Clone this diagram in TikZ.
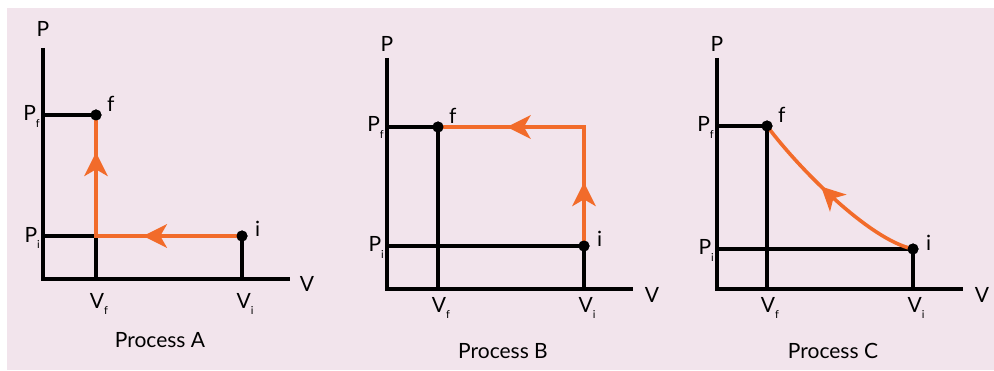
\documentclass[tikz,border=0pt]{standalone}
\usepackage{fontspec}
\setmainfont{Lato}
\usetikzlibrary{decorations.markings}

\definecolor{bgpink}{HTML}{F2E4EC}
\definecolor{procorange}{HTML}{F26B2A}

\newcommand{\lowsub}[1]{\raisebox{-0.6ex}{\fontsize{11}{11}\selectfont #1}}

\tikzset{
  axis/.style={line width=3.8pt, line join=miter},
  guide/.style={line width=3.6pt},
  proc/.style={procorange, line width=3.6pt},
  arrow at/.style={postaction={decorate, decoration={markings,
      mark=at position #1 with {\fill[procorange] (0pt,0pt) -- (-24pt,12pt)
          -- (-17pt,0pt) -- (-24pt,-12pt) -- cycle;}}}},
  dot/.style={circle, fill=black, inner sep=0pt, minimum size=11pt},
  lbl/.style={font=\fontsize{21}{24}\selectfont, inner sep=0pt},
}

\begin{document}
\begin{tikzpicture}[x=1pt,y=1pt]
    \useasboundingbox (0,0) rectangle (994,370);
    \fill[bgpink] (7,0) rectangle (994,362);

    % Process A
    \begin{scope}[shift={(43,91)}]
    \coordinate (oA) at (0,0);
    \coordinate (pA) at (0,231);
    \coordinate (vA) at (247,0);
    \draw[axis] (pA) -- (oA) -- (vA);
    \node[lbl, anchor=base] (PA) at (0,242) {P};
    \node[lbl, anchor=base] (VA) at (264,-13) {V};

    \node[dot] (fA) at (53,164) {};
    \node[dot] (iA) at (199,43) {};
    \coordinate (cA) at (fA |- iA);
    \draw[guide] (fA.center) -- (fA.center -| oA);
    \draw[guide] (cA) -- (cA -| oA);
    \draw[guide] (cA) -- (cA |- oA);
    \draw[guide] (iA.center) -- (iA.center |- oA);
    \draw[proc, arrow at=0.37, arrow at=0.86] (iA.center) -| (fA.center);
    \node[dot] at (fA) {};
    \node[dot] at (iA) {};

    \node[lbl, anchor=base east] (PfA) at (-3,158) {P\lowsub{f}};
    \node[lbl, anchor=base east] (PiA) at (-3,37) {P\lowsub{i}};
    \node[lbl, anchor=base] (VfA) at (56,-29) {V\lowsub{f}};
    \node[lbl, anchor=base] (ViA) at (202,-29) {V\lowsub{i}};
    \node[lbl, anchor=base west] (lfA) at ([shift={(11,3)}]fA.center) {f};
    \node[lbl, anchor=base west] (liA) at ([shift={(13,-1)}]iA.center) {i};
    \node[lbl, anchor=base] (nameA) at (117,-68) {Process A};
    \end{scope}

    % Process B
    \begin{scope}[shift={(387,81)}]
    \coordinate (oB) at (0,0);
    \coordinate (pB) at (0,231);
    \coordinate (vB) at (246,0);
    \draw[axis] (pB) -- (oB) -- (vB);
    \node[lbl, anchor=base] (PB) at (0,237) {P};
    \node[lbl, anchor=base] (VB) at (265,-13) {V};

    \node[dot] (fB) at (51,162) {};
    \node[dot] (iB) at (197,43) {};
    \draw[guide] (fB.center) -- (fB.center -| oB);
    \draw[guide] (fB.center) -- (fB.center |- oB);
    \draw[guide] (iB.center) -- (iB.center -| oB);
    \draw[guide] (iB.center) -- (iB.center |- oB);
    \draw[proc, arrow at=0.24, arrow at=0.74] (iB.center) |- (fB.center);
    \node[dot] at (fB) {};
    \node[dot] at (iB) {};

    \node[lbl, anchor=base east] (PfB) at (-3,157) {P\lowsub{f}};
    \node[lbl, anchor=base east] (PiB) at (-3,37) {P\lowsub{i}};
    \node[lbl, anchor=base] (VfB) at (54,-23) {V\lowsub{f}};
    \node[lbl, anchor=base] (ViB) at (200,-23) {V\lowsub{i}};
    \node[lbl, anchor=base west] (lfB) at ([shift={(11,3)}]fB.center) {f};
    \node[lbl, anchor=base west] (liB) at ([shift={(13,-1)}]iB.center) {i};
    \node[lbl, anchor=base] (nameB) at (116,-69) {Process B};
    \end{scope}

    % Process C
    \begin{scope}[shift={(717,81)}]
    \coordinate (oC) at (0,0);
    \coordinate (pC) at (0,231);
    \coordinate (vC) at (246,0);
    \draw[axis] (pC) -- (oC) -- (vC);
    \node[lbl, anchor=base] (PC) at (0,237) {P};
    \node[lbl, anchor=base] (VC) at (265,-13) {V};

    \node[dot] (fC) at (50,163) {};
    \node[dot] (iC) at (196,40) {};
    \draw[guide] (fC.center) -- (fC.center -| oC);
    \draw[guide] (fC.center) -- (fC.center |- oC);
    \draw[guide] (iC.center) -- (iC.center -| oC);
    \draw[guide] (iC.center) -- (iC.center |- oC);
    \draw[proc, arrow at=0.58] (iC.center)
        .. controls (153,49) and (83,119) .. (fC.center);
    \node[dot] at (fC) {};
    \node[dot] at (iC) {};

    \node[lbl, anchor=base east] (PfC) at (-3,157) {P\lowsub{f}};
    \node[lbl, anchor=base east] (PiC) at (-3,34) {P\lowsub{i}};
    \node[lbl, anchor=base] (VfC) at (53,-23) {V\lowsub{f}};
    \node[lbl, anchor=base] (ViC) at (199,-23) {V\lowsub{i}};
    \node[lbl, anchor=base west] (lfC) at ([shift={(11,3)}]fC.center) {f};
    \node[lbl, anchor=base west] (liC) at ([shift={(13,-1)}]iC.center) {i};
    \node[lbl, anchor=base] (nameC) at (116,-69) {Process C};
    \end{scope}
\end{tikzpicture}
\end{document}
